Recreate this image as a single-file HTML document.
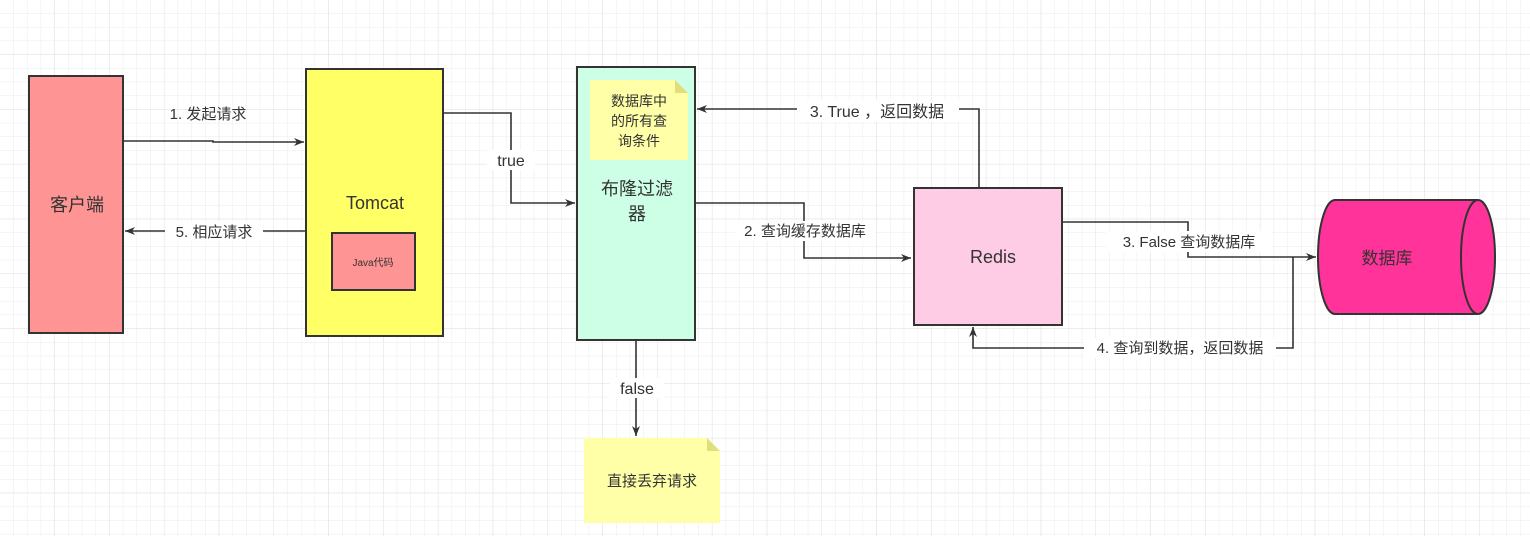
<!DOCTYPE html>
<html><head><meta charset="utf-8"><style>
html,body{margin:0;padding:0;width:1530px;height:536px;overflow:hidden;background:#fff}
svg text{font-family:"Liberation Sans","Noto Sans CJK SC",sans-serif;fill:#333}
</style></head><body>
<svg width="1530" height="536" xmlns="http://www.w3.org/2000/svg">
<defs>
<pattern id="g" width="13.7" height="13.7" patternUnits="userSpaceOnUse">
<path d="M13.7 0V13.7M0 13.7H13.7" stroke="#ebebeb" stroke-width="1" fill="none"/>
</pattern>
<pattern id="G" width="54.8" height="54.8" patternUnits="userSpaceOnUse">
<path d="M54.8 0V54.8M0 54.8H54.8" stroke="#e2e2e2" stroke-width="1" fill="none"/>
</pattern>
<marker id="a" markerWidth="10" markerHeight="8" refX="10" refY="4" orient="auto" markerUnits="userSpaceOnUse">
<path d="M0,0 L10,4 L0,8 L3,4 Z" fill="#333"/>
</marker>
</defs>
<rect width="1530" height="536" fill="url(#g)"/>
<rect width="1530" height="536" fill="url(#G)"/>

<g stroke="#333" stroke-width="2">
<rect x="29" y="76" width="94" height="257" fill="#ff9494"/>
<rect x="306" y="69" width="137" height="267" fill="#ffff66"/>
<rect x="332" y="233" width="83" height="57" fill="#ff9494"/>
<rect x="577" y="67" width="118" height="273" fill="#ccffe6"/>
<rect x="914" y="188" width="148" height="137" fill="#ffcce6"/>
<path d="M1335,200 H1478 A17,57 0 0 1 1478,314 H1335 A17,57 0 0 1 1335,200 Z" fill="#ff3399"/>
<path d="M1478,200 A17,57 0 0 0 1478,314" fill="none"/>
</g>
<path d="M590,80 H675 L688,93 V160 H590 Z" fill="#ffffa8"/>
<path d="M675,80 V93 H688 Z" fill="#e0e07a"/>
<path d="M584,438 H707 L720,451 V523 H584 Z" fill="#ffffa8"/>
<path d="M707,438 V451 H720 Z" fill="#e0e07a"/>

<g stroke="#333" stroke-width="1.6" fill="none">
<path d="M123,141 H213 V142 H304" marker-end="url(#a)"/>
<path d="M306,231 H125" marker-end="url(#a)"/>
<path d="M443,113 H511 V203 H575" marker-end="url(#a)"/>
<path d="M636,340 V436" marker-end="url(#a)"/>
<path d="M695,203 H804 V258 H911" marker-end="url(#a)"/>
<path d="M979,188 V109 H697" marker-end="url(#a)"/>
<path d="M1062,222 H1188 V257 H1316" marker-end="url(#a)"/>
<path d="M1293,257 V348 H973 V327" marker-end="url(#a)"/>
</g>

<g font-size="15" text-anchor="middle">
<text x="208" y="119">1. 发起请求</text>
<rect x="165" y="222" width="98" height="19" fill="#fff"/>
<text x="214" y="237">5. 相应请求</text>
<rect x="487" y="150" width="48" height="20" fill="#fff"/>
<text x="511" y="166" font-size="16">true</text>
<rect x="610" y="378" width="54" height="20" fill="#fff"/>
<text x="637" y="394" font-size="16">false</text>
<rect x="735" y="221" width="140" height="20" fill="#fff"/>
<text x="805" y="236">2. 查询缓存数据库</text>
<rect x="797" y="100" width="162" height="22" fill="#fff"/>
<text x="877" y="117" font-size="16">3. True ，返回数据</text>
<rect x="1106" y="231" width="166" height="21" fill="#fff"/>
<text x="1189" y="247">3. False 查询数据库</text>
<rect x="1084" y="338" width="192" height="20" fill="#fff"/>
<text x="1180" y="353">4. 查询到数据，返回数据</text>
</g>

<g text-anchor="middle">
<text x="77" y="211" font-size="18">客户端</text>
<text x="375" y="209" font-size="18">Tomcat</text>
<text x="373" y="266" font-size="10">Java代码</text>
<text x="637" y="195" font-size="18">布隆过滤</text>
<text x="637" y="220" font-size="18">器</text>
<text x="639" y="106" font-size="14">数据库中</text>
<text x="639" y="126" font-size="14">的所有查</text>
<text x="639" y="146" font-size="14">询条件</text>
<text x="652" y="486" font-size="15">直接丢弃请求</text>
<text x="993" y="263" font-size="18">Redis</text>
<text x="1387" y="264" font-size="17">数据库</text>
</g>
</svg>
</body></html>
